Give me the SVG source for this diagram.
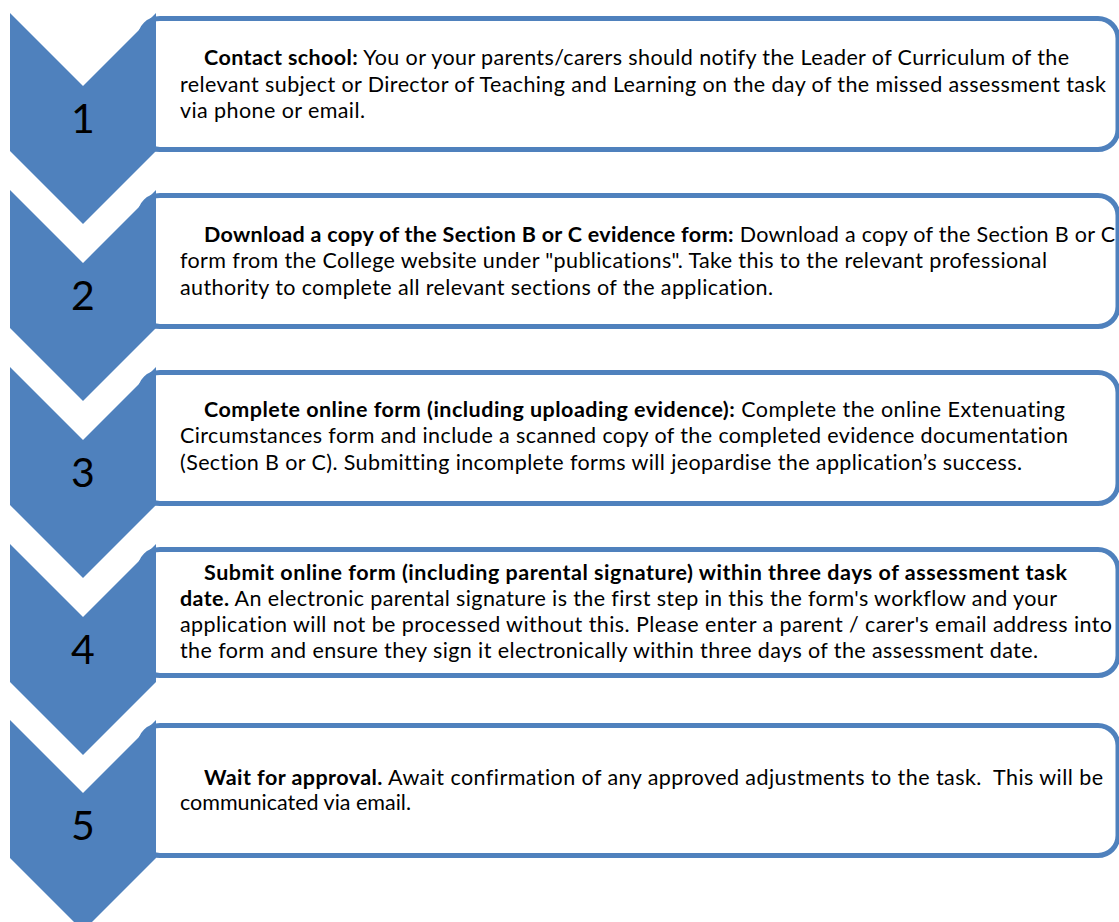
<svg xmlns="http://www.w3.org/2000/svg" width="1119" height="922" viewBox="0 0 1119 922">
<style>
.box{fill:#fff;stroke:#4F81BD;stroke-width:5}
.chev{fill:#4F81BD}
.num{font-family:Lato,"Liberation Sans",sans-serif;font-size:41px;fill:#000;text-anchor:middle}
.t{font-family:Lato,"Liberation Sans",sans-serif;font-size:21.5px;fill:#000;font-variant-ligatures:none}
.b{font-weight:bold}
</style>
<rect width="1119" height="922" fill="#fff"/>
<g id="step1">
<rect class="box" x="140" y="18.5" width="978" height="131" rx="20"/>
<polygon class="chev" points="10,13 83,86 156,13 156,151 83,224 10,151"/>
<text class="num" x="83" y="133">1</text>
<text class="t" x="204" y="65" textLength="865"><tspan class="b">Contact school:</tspan> You or your parents/carers should notify the Leader of Curriculum of the</text>
<text class="t" x="180" y="92" textLength="926">relevant subject or Director of Teaching and Learning on the day of the missed assessment task</text>
<text class="t" x="180" y="118" textLength="185">via phone or email.</text>
</g>
<g id="step2">
<rect class="box" x="140" y="195.5" width="978" height="131" rx="20"/>
<polygon class="chev" points="10,190 83,263 156,190 156,328 83,401 10,328"/>
<text class="num" x="83" y="310">2</text>
<text class="t" x="204" y="242" textLength="911"><tspan class="b">Download a copy of the Section B or C evidence form:</tspan> Download a copy of the Section B or C</text>
<text class="t" x="180" y="268" textLength="867">form from the College website under "publications". Take this to the relevant professional</text>
<text class="t" x="180" y="295" textLength="593">authority to complete all relevant sections of the application.</text>
</g>
<g id="step3">
<rect class="box" x="140" y="372.5" width="978" height="131" rx="20"/>
<polygon class="chev" points="10,367 83,440 156,367 156,505 83,578 10,505"/>
<text class="num" x="83" y="487">3</text>
<text class="t" x="204" y="417" textLength="861"><tspan class="b">Complete online form (including uploading evidence):</tspan> Complete the online Extenuating</text>
<text class="t" x="180" y="443" textLength="888">Circumstances form and include a scanned copy of the completed evidence documentation</text>
<text class="t" x="180" y="470" textLength="842">(Section B or C). Submitting incomplete forms will jeopardise the application’s success.</text>
</g>
<g id="step4">
<rect class="box" x="140" y="549.5" width="978" height="126" rx="20"/>
<polygon class="chev" points="10,544 83,617 156,544 156,682 83,755 10,682"/>
<text class="num" x="83" y="664">4</text>
<text class="t b" x="204" y="580" textLength="863">Submit online form (including parental signature) within three days of assessment task</text>
<text class="t" x="180" y="606" textLength="877"><tspan class="b">date.</tspan> An electronic parental signature is the first step in this the form's workflow and your</text>
<text class="t" x="180" y="632" textLength="932">application will not be processed without this. Please enter a parent / carer's email address into</text>
<text class="t" x="180" y="658" textLength="858">the form and ensure they sign it electronically within three days of the assessment date.</text>
</g>
<g id="step5">
<rect class="box" x="140" y="725.5" width="978" height="130" rx="20"/>
<polygon class="chev" points="10,720 83,793 156,720 156,858 83,931 10,858"/>
<text class="num" x="83" y="840">5</text>
<text class="t" x="204" y="785" textLength="899" xml:space="preserve"><tspan class="b">Wait for approval.</tspan> Await confirmation of any approved adjustments to the task.  This will be</text>
<text class="t" x="180" y="810" textLength="231">communicated via email.</text>
</g>
<g id="connectors"/>
</svg>
